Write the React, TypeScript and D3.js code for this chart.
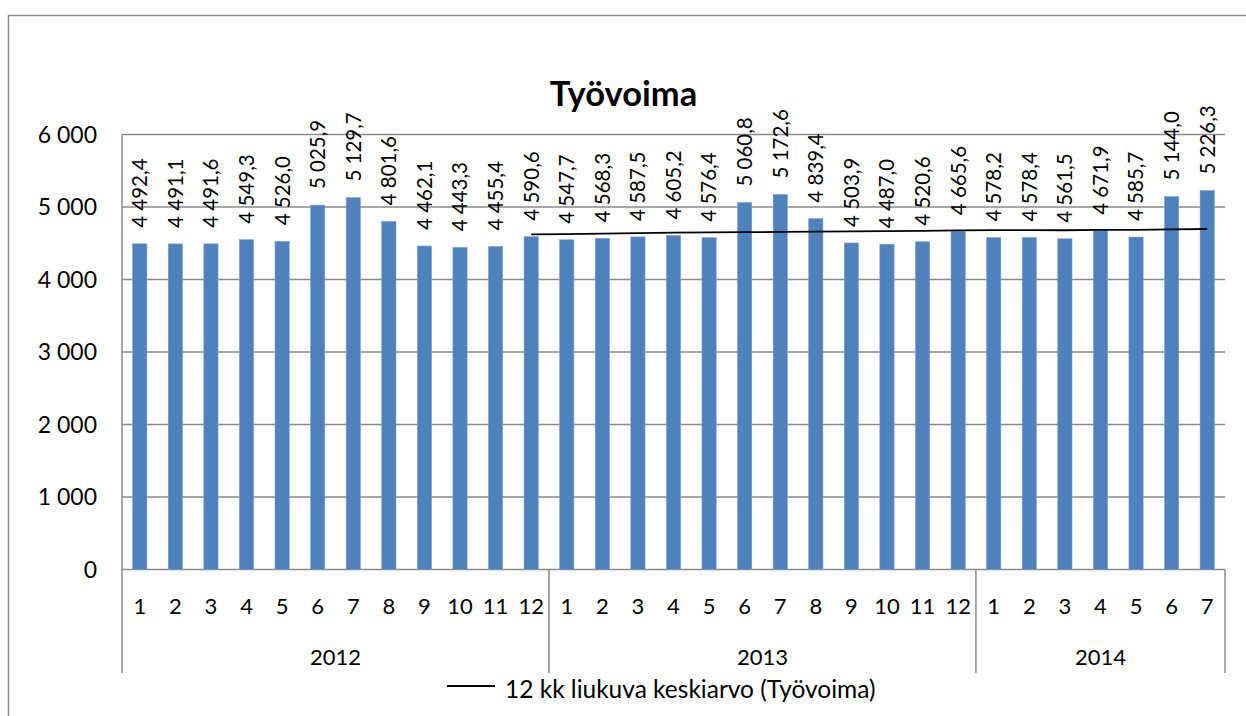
import React from "react";
import * as d3 from "d3";

const years = ["2012", "2013", "2014"];
const monthsPerYear = [12, 12, 7];
const months = [
  "1","2","3","4","5","6","7","8","9","10","11","12",
  "1","2","3","4","5","6","7","8","9","10","11","12",
  "1","2","3","4","5","6","7",
];
const values = [
  4492.4, 4491.1, 4491.6, 4549.3, 4526.0, 5025.9, 5129.7, 4801.6, 4462.1, 4443.3, 4455.4, 4590.6,
  4547.7, 4568.3, 4587.5, 4605.2, 4576.4, 5060.8, 5172.6, 4839.4, 4503.9, 4487.0, 4520.6, 4665.6,
  4578.2, 4578.4, 4561.5, 4671.9, 4585.7, 5144.0, 5226.3,
];
// 12 kk liukuva keskiarvo, from index 11 onwards
const movingAvg = [
  4621.58, 4626.19, 4632.63, 4640.62, 4645.28, 4649.48, 4652.38, 4655.96, 4659.11, 4662.59,
  4666.23, 4671.67, 4677.92, 4680.46, 4681.30, 4679.13, 4684.69, 4685.47, 4692.40, 4696.88,
];
const movingAvgStart = 11;
const yTicks = [0, 1000, 2000, 3000, 4000, 5000, 6000];
const title = "Työvoima";
const legendLabel = "12 kk liukuva keskiarvo (Työvoima)";

const W = 1246;
const H = 716;
const left = 122;
const right = 1225;
const top = 134.5;
const bottom = 569.5;
const font = "Lato, 'Open Sans', sans-serif";
const gridColor = "#8a8a8a";

function fmtThousands(v: number, dec: number) {
  const s = v.toFixed(dec);
  const [ip, fp] = s.split(".");
  const withSp = ip.replace(/\B(?=(\d{3})+(?!\d))/g, " ");
  return fp !== undefined ? withSp + "," + fp : withSp;
}

export default function App() {
  const step = (right - left) / values.length;
  const y = d3.scaleLinear().domain([0, 6000]).range([bottom, top]);
  const cx = (i: number) => left + step * (i + 0.5);
  const barW = step * 0.4;

  const line = d3
    .line<number>()
    .x((_, k) => cx(movingAvgStart + k))
    .y((d) => y(d));

  const boundaries: number[] = [0];
  monthsPerYear.forEach((n, k) => boundaries.push(boundaries[k] + n));

  return (
    <svg
      width={W}
      height={H}
      style={{ position: "absolute", left: 0, top: 0, background: "#fff" }}
      fontFamily={font}
    >
      <rect x={0} y={0} width={W} height={H} fill="#fff" />
      <path d={`M8.5,${H + 5} V15.5 H${W + 5}`} fill="none" stroke="#8c8c8c" strokeWidth={1.5} />

      <text x={623.5} y={106} textAnchor="middle" fontSize={34.5} fontWeight="bold" fill="#000">
        {title}
      </text>

      {yTicks.map((t) => (
        <line key={t} x1={left} x2={right} y1={y(t)} y2={y(t)} stroke={gridColor} strokeWidth={1.3} />
      ))}
      {yTicks.map((t) => (
        <text key={"l" + t} x={97} y={y(t)} dy="0.36em" textAnchor="end" fontSize={23} fill="#000">
          {fmtThousands(t, 0)}
        </text>
      ))}

      {values.map((v, i) => (
        <rect
          key={i}
          x={cx(i) - barW / 2}
          y={y(v)}
          width={barW}
          height={y(0) - y(v)}
          fill="#4F81BD"
          stroke="#7a9fd0"
          strokeWidth={0.6}
        />
      ))}

      <path d={line(movingAvg) || ""} fill="none" stroke="#000" strokeWidth={1.8} />

      {values.map((v, i) => (
        <text
          key={"d" + i}
          transform={`translate(${cx(i)},${y(v) - 16}) rotate(-90)`}
          dy="0.36em"
          fontSize={20.5}
          fill="#000"
        >
          {fmtThousands(v, 1)}
        </text>
      ))}

      <line x1={left} x2={left} y1={top} y2={673} stroke={gridColor} strokeWidth={1.5} />
      {boundaries.slice(1).map((b, k) => (
        <line key={"b" + k} x1={left + b * step} x2={left + b * step} y1={bottom} y2={673} stroke={gridColor} strokeWidth={1.5} />
      ))}

      {months.map((m, i) => (
        <text key={"m" + i} x={cx(i)} y={613.5} textAnchor="middle" fontSize={22} fill="#000">
          {m}
        </text>
      ))}
      {years.map((yr, k) => (
        <text
          key={yr}
          x={left + ((boundaries[k] + boundaries[k + 1]) / 2) * step}
          y={665}
          textAnchor="middle"
          fontSize={22}
          fill="#000"
        >
          {yr}
        </text>
      ))}

      <line x1={447} x2={495} y1={686} y2={686} stroke="#000" strokeWidth={1.8} />
      <text x={505} y={697.5} fontSize={24.5} fill="#000">
        {legendLabel}
      </text>
    </svg>
  );
}
